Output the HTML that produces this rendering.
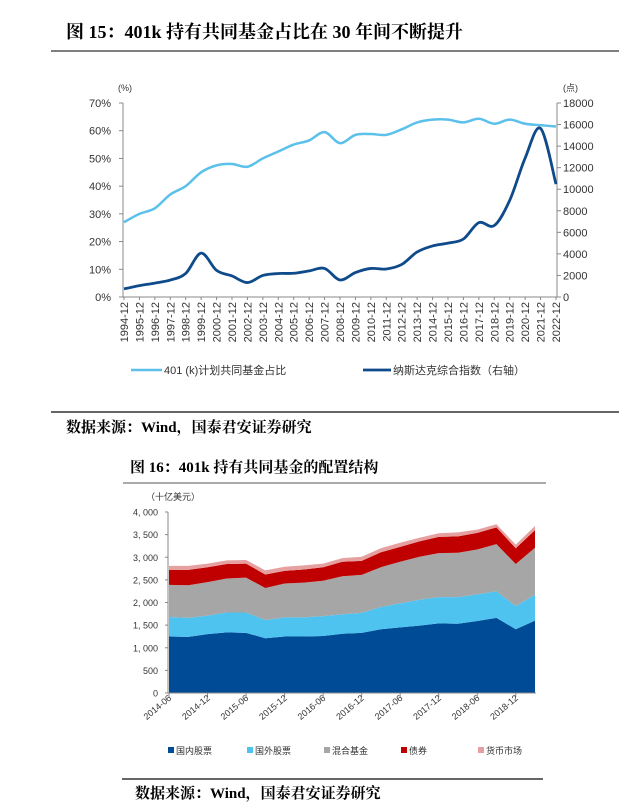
<!DOCTYPE html>
<html><head><meta charset="utf-8">
<style>
body{margin:0;background:#fff;width:640px;height:812px;overflow:hidden;font-family:"Liberation Sans","Noto Sans CJK SC",sans-serif;}
svg{display:block}
.ttl{font-family:"Liberation Serif","Noto Serif CJK SC",serif;font-weight:bold;fill:#000}
.tk{font-size:11px;fill:#333}
.tk2{font-size:9px;fill:#333}
</style></head>
<body>
<svg id="s" width="640" height="812" viewBox="0 0 640 812" xmlns="http://www.w3.org/2000/svg">
<text class="ttl" x="66" y="38" font-size="18">图 15：401k 持有共同基金占比在 30 年间不断提升</text>
<line x1="51" y1="51" x2="619" y2="51" stroke="#555" stroke-width="1.5"/>
<g id="c1"></g>
<line x1="51" y1="412" x2="619" y2="412" stroke="#333" stroke-width="1.5"/>
<text class="ttl" x="66" y="432" font-size="15">数据来源：Wind，国泰君安证券研究</text>
<text class="ttl" x="130" y="472" font-size="15">图 16：401k 持有共同基金的配置结构</text>
<line x1="123" y1="483" x2="546" y2="483" stroke="#777" stroke-width="1.2"/>
<g id="c2"></g>
<line x1="122" y1="779" x2="543" y2="779" stroke="#333" stroke-width="1.5"/>
<text class="ttl" x="135" y="798" font-size="15">数据来源：Wind，国泰君安证券研究</text>
</svg>
<script>
const years=[1994,1995,1996,1997,1998,1999,2000,2001,2002,2003,2004,2005,2006,2007,2008,2009,2010,2011,2012,2013,2014,2015,2016,2017,2018,2019,2020,2021,2022];
const share401k=[27,30,32,37,40,45,47.5,48,47,50,52.5,55,56.5,59.5,55.5,58.5,58.8,58.5,60.5,63,64,64,63,64.3,62.5,64,62.5,62,61.5];
const nasdaq=[750,1050,1290,1570,2190,4070,2470,1950,1340,2000,2180,2200,2420,2650,1580,2270,2650,2600,3020,4180,4740,5000,5380,6900,6630,8970,12890,15640,10470];
const leftTicks=[0,10,20,30,40,50,60,70];
const rightTicks=[0,2000,4000,6000,8000,10000,12000,14000,16000,18000];

const q=['2014-06','2014-09','2014-12','2015-03','2015-06','2015-09','2015-12','2016-03','2016-06','2016-09','2016-12','2017-03','2017-06','2017-09','2017-12','2018-03','2018-06','2018-09','2018-12','2019-03'];
const domestic=[1250,1240,1300,1340,1330,1210,1250,1250,1260,1310,1330,1410,1450,1490,1540,1530,1590,1660,1410,1600];
const foreign=[430,420,410,440,450,400,420,420,440,430,440,490,530,570,580,590,590,590,510,570];
const hybrid=[710,720,740,750,770,710,750,770,780,840,840,880,920,950,970,980,990,1040,930,1040];
const bonds=[330,340,330,320,310,300,280,290,300,320,310,330,330,340,360,360,370,370,350,390];
const mmf=[90,90,80,80,80,90,90,90,80,80,90,90,90,80,80,90,70,70,80,90];
const yTicks2=[0,500,1000,1500,2000,2500,3000,3500,4000];
const xLabels2=['2014-06','2014-12','2015-06','2015-12','2016-06','2016-12','2017-06','2017-12','2018-06','2018-12'];
const seriesNames=['国内股票','国外股票','混合基金','债券','货币市场'];

const NS='http://www.w3.org/2000/svg';
function mk(p,t,a){const e=document.createElementNS(NS,t);for(const k in a)e.setAttribute(k,a[k]);p.appendChild(e);return e;}
function smooth(pts){let d='M'+pts[0][0]+','+pts[0][1];for(let i=0;i<pts.length-1;i++){const p0=pts[i-1]||pts[i],p1=pts[i],p2=pts[i+1],p3=pts[i+2]||p2;const c1x=p1[0]+(p2[0]-p0[0])/6,c1y=p1[1]+(p2[1]-p0[1])/6,c2x=p2[0]-(p3[0]-p1[0])/6,c2y=p2[1]-(p3[1]-p1[1])/6;d+=`C${c1x},${c1y} ${c2x},${c2y} ${p2[0]},${p2[1]}`;}return d;}

// chart 1
const c1=document.getElementById('c1');
const X0=124,X1=556,Y0=297,Y1=103;
const x1=i=>X0+(X1-X0)*i/(years.length-1);
const yl=v=>Y0-(Y0-Y1)*v/70;
const yr=v=>Y0-(Y0-Y1)*v/18000;
let e;
e=mk(c1,'line',{x1:123,y1:Y1,x2:123,y2:Y0,stroke:'#888'});
e=mk(c1,'line',{x1:557,y1:Y1,x2:557,y2:Y0,stroke:'#888'});
e=mk(c1,'line',{x1:123,y1:Y0,x2:557,y2:Y0,stroke:'#888'});
leftTicks.forEach(v=>{const y=yl(v);mk(c1,'line',{x1:119,y1:y,x2:123,y2:y,stroke:'#888'});
 e=mk(c1,'text',{x:111,y:y+4,'text-anchor':'end',class:'tk'});e.textContent=v+'%';});
rightTicks.forEach(v=>{const y=yr(v);mk(c1,'line',{x1:557,y1:y,x2:561,y2:y,stroke:'#888'});
 e=mk(c1,'text',{x:563,y:y+4,class:'tk'});e.textContent=v;});
e=mk(c1,'text',{x:118,y:91,class:'tk2'});e.textContent='(%)';
e=mk(c1,'text',{x:563,y:91,class:'tk2'});e.textContent='(点)';
years.forEach((yv,i)=>{const x=x1(i);mk(c1,'line',{x1:x,y1:Y0,x2:x,y2:Y0+3,stroke:'#888'});
 e=mk(c1,'text',{x:0,y:0,transform:`translate(${x+4},${Y0+5}) rotate(-90)`,'text-anchor':'end',class:'tk'});e.textContent=yv+'-12';});
e=mk(c1,'path',{d:smooth(share401k.map((v,i)=>[x1(i),yl(v)])),fill:'none',stroke:'#5bc0ea','stroke-width':2.5});
e=mk(c1,'path',{d:smooth(nasdaq.map((v,i)=>[x1(i),yr(v)])),fill:'none',stroke:'#0f4a8a','stroke-width':2.8});
e=mk(c1,'line',{x1:131,y1:370,x2:162,y2:370,stroke:'#5bc0ea','stroke-width':2.5});
e=mk(c1,'text',{x:164,y:374,class:'tk'});e.textContent='401 (k)计划共同基金占比';
e=mk(c1,'line',{x1:363,y1:370,x2:391,y2:370,stroke:'#0f4a8a','stroke-width':2.8});
e=mk(c1,'text',{x:393,y:374,class:'tk'});e.textContent='纳斯达克综合指数（右轴）';

// chart 2
const c2=document.getElementById('c2');
const A0=169,A1=535,B0=693,B1=512;
const x2=i=>A0+(A1-A0)*i/(q.length-1);
const y2=v=>B0-(B0-B1)*v/4000;
const colors=['#004b96','#4fc3f0','#a6a6a6','#c00000','#e6a0a0'];
const series=[domestic,foreign,hybrid,bonds,mmf];
const names=['area-domestic-equity','area-foreign-equity','area-hybrid','area-bonds','area-money-market'];
let base=q.map(()=>0);
series.forEach((s,k)=>{const top=s.map((v,i)=>base[i]+v);
 let d='M'+top.map((v,i)=>x2(i)+','+y2(v)).join('L');
 for(let i=q.length-1;i>=0;i--)d+='L'+x2(i)+','+y2(base[i]);d+='Z';
 const p=mk(c2,'path',{d,fill:colors[k]});
 base=top;});
e=mk(c2,'line',{x1:168,y1:B1,x2:168,y2:B0,stroke:'#888'});
e=mk(c2,'line',{x1:168,y1:B0,x2:536,y2:B0,stroke:'#888'});
yTicks2.forEach(v=>{const y=y2(v);mk(c2,'line',{x1:165,y1:y,x2:168,y2:y,stroke:'#888'});
 e=mk(c2,'text',{x:158,y:y+3.5,'text-anchor':'end',class:'tk2'});e.textContent=v.toLocaleString('en-US').replace(',',', ');});
e=mk(c2,'text',{x:146,y:500,class:'tk2'});e.textContent='（十亿美元）';
xLabels2.forEach(lb=>{const i=q.indexOf(lb);const x=x2(i);mk(c2,'line',{x1:x,y1:B0,x2:x,y2:B0+4,stroke:'#888'});
 e=mk(c2,'text',{x:0,y:0,transform:`translate(${x+3},${B0+6}) rotate(-40)`,'text-anchor':'end',class:'tk2'});e.textContent=lb;});
const lx=[168,247,324,401,478];
seriesNames.forEach((n,k)=>{e=mk(c2,'rect',{x:lx[k],y:747,width:6,height:6,fill:colors[k]});
 e=mk(c2,'text',{x:lx[k]+8,y:754,class:'tk2'});e.textContent=n;});
</script>
</body></html>
